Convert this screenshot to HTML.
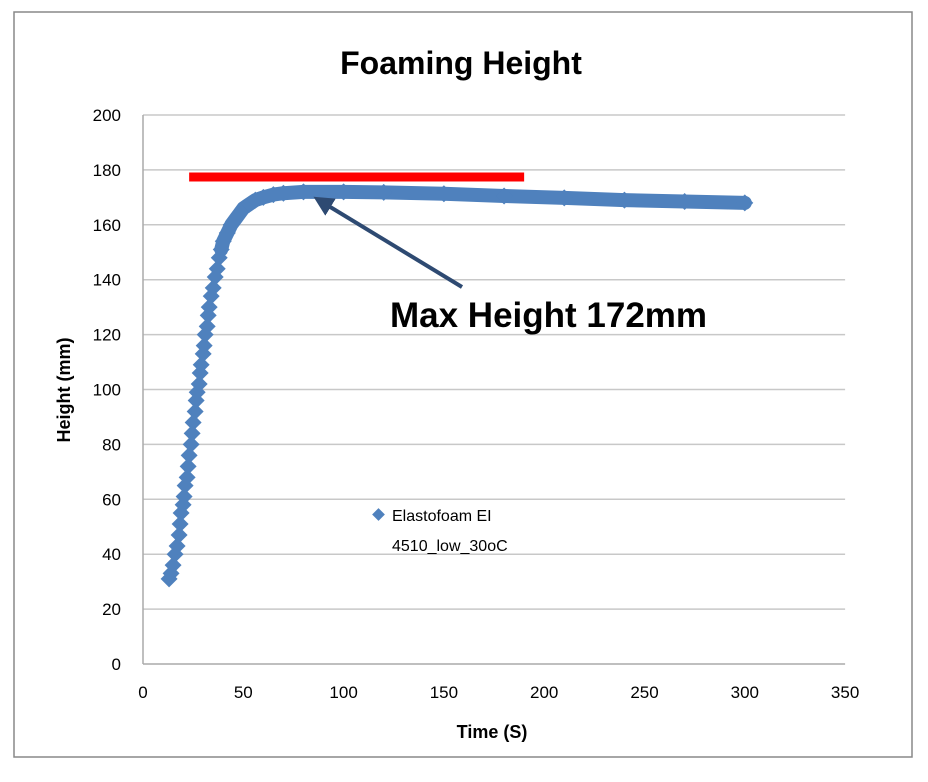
<!DOCTYPE html>
<html><head><meta charset="utf-8"><style>
body{margin:0;background:#fff;}
svg text{font-family:"Liberation Sans",sans-serif;}
</style></head><body>
<svg width="928" height="777" xmlns="http://www.w3.org/2000/svg" id="chart">
<rect x="14" y="12" width="898" height="745" fill="#fff" stroke="#888" stroke-width="1.5"/>
<text x="461" y="74" font-size="32" font-weight="bold" text-anchor="middle">Foaming Height</text>
<g id="grid"></g>
<g id="yticks"></g>
<g id="xticks"></g>
<text x="492" y="738" font-size="18" font-weight="bold" text-anchor="middle">Time (S)</text>
<text transform="translate(70,390) rotate(-90)" font-size="18" font-weight="bold" text-anchor="middle">Height (mm)</text>
<g id="series"></g>
<line id="maxline" stroke="#ff0000" stroke-width="9"/>
<defs><marker id="ah" markerWidth="5" markerHeight="5" refX="2.5" refY="2.5" orient="auto"><path d="M0,0 L5,2.5 L0,5 z" fill="#2e4a72"/></marker></defs>
<line x1="462" y1="287" x2="322" y2="202" stroke="#2e4a72" stroke-width="4" marker-end="url(#ah)"/>
<text x="390" y="327" font-size="35" font-weight="bold">Max Height 172mm</text>
<g>
<rect x="374" y="510" width="9" height="9" fill="#4f81bd" transform="rotate(45 378.5 514.5)"/>
<text x="392" y="521" font-size="16">Elastofoam EI</text>
<text x="392" y="551" font-size="16">4510_low_30oC</text>
</g>
</svg>
<script>
const times=[13,14,15,16,17,18,18.5,19,20,20.5,21,22,22.5,23,24,24.5,25,26,26.5,27,28,28.5,29,30,30.5,31,32,32.5,33,34,35,36,37,38,39,40,42,44,46,48,50,53,56,60,65,70,80,100,120,150,180,210,240,270,300];
const heights=[31,33,36,40,43,47,51,55,58,61,65,68,72,76,80,84,88,92,96,99,102,106,109,113,116,120,123,127,130,134,137,141,144,148,151,154,157,160,162,164,166,167.5,169,170,171,171.5,172,172,171.8,171.3,170.5,169.8,169,168.5,168];
const xTicks=[0,50,100,150,200,250,300,350];
const yTicks=[0,20,40,60,80,100,120,140,160,180,200];
const maxLine=[23,190,177.4];
const X=v=>143+v*2.006, Y=v=>664-v*2.745;
const ns="http://www.w3.org/2000/svg";
function mk(t,a,p){const e=document.createElementNS(ns,t);for(const k in a)e.setAttribute(k,a[k]);p.appendChild(e);return e;}
const grid=document.getElementById('grid'),yt=document.getElementById('yticks'),xt=document.getElementById('xticks'),ser=document.getElementById('series');
yTicks.forEach(v=>{
 const l=mk('line',{x1:X(0),x2:X(350),y1:Y(v),y2:Y(v),stroke:v===0?'#aaa':'#c8c8c8','stroke-width':1.5},grid);
 
 
 const t=mk('text',{x:121,y:Y(v)+6,'font-size':17,'text-anchor':'end'},yt);t.textContent=v;
 
 
});
const ax=mk('line',{x1:X(0),x2:X(0),y1:Y(0),y2:Y(200),stroke:'#aaa','stroke-width':1.5},grid);


xTicks.forEach(v=>{
 const t=mk('text',{x:X(v),y:698,'font-size':17,'text-anchor':'middle'},xt);t.textContent=v;
 
 
});
const bandIdx=times.map((t,i)=>i).filter(i=>heights[i]>=150);
const pl=mk('polyline',{points:bandIdx.map(i=>X(times[i])+','+Y(heights[i])).join(' '),fill:'none',stroke:'#4f81bd','stroke-width':14,'stroke-linejoin':'round','stroke-linecap':'round'},ser);


times.forEach((t,i)=>{
 const x=X(t),y=Y(heights[i]);
 const p=mk('rect',{x:x-6,y:y-6,width:12,height:12,fill:'#4f81bd',transform:`rotate(45 ${x} ${y})`},ser);
 
 
});
const ml=document.getElementById('maxline');
ml.setAttribute('x1',X(maxLine[0]));ml.setAttribute('x2',X(maxLine[1]));
ml.setAttribute('y1',Y(maxLine[2]));ml.setAttribute('y2',Y(maxLine[2]));
</script>
</body></html>
